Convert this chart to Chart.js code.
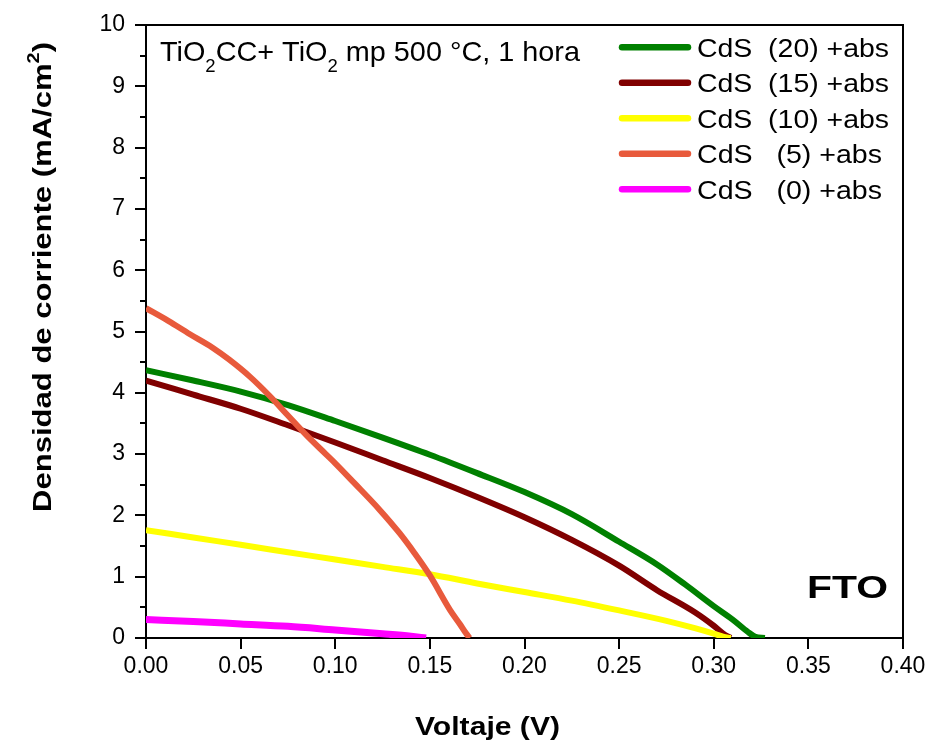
<!DOCTYPE html>
<html>
<head>
<meta charset="utf-8">
<script src="https://cdn.jsdelivr.net/npm/chart.js@4.4.1/dist/chart.umd.min.js"></script>
<style>
  html, body { margin: 0; padding: 0; background: #fff; }
</style>
</head>
<body>
<canvas id="curvaJV" width="930" height="743"></canvas>
<script>
// Curvas J-V, voltaje (V) contra densidad de corriente (mA/cm2)
const v20 = [0, 0.025, 0.05, 0.075, 0.10, 0.125, 0.15, 0.175, 0.20, 0.225, 0.25, 0.27, 0.285, 0.30, 0.31, 0.318, 0.322, 0.327];
const j20 = [4.37, 4.20, 4.02, 3.80, 3.54, 3.27, 2.99, 2.69, 2.38, 2.02, 1.57, 1.20, 0.87, 0.52, 0.30, 0.10, 0.02, 0];

const v15 = [0, 0.025, 0.05, 0.075, 0.10, 0.125, 0.15, 0.175, 0.20, 0.225, 0.25, 0.27, 0.29, 0.30, 0.306, 0.309];
const j15 = [4.20, 3.97, 3.74, 3.47, 3.19, 2.90, 2.61, 2.30, 1.97, 1.60, 1.18, 0.78, 0.42, 0.20, 0.05, 0];

const v10 = [0, 0.025, 0.05, 0.075, 0.10, 0.125, 0.15, 0.175, 0.20, 0.225, 0.25, 0.275, 0.29, 0.30, 0.305, 0.309];
const j10 = [1.76, 1.64, 1.52, 1.40, 1.28, 1.16, 1.04, 0.89, 0.75, 0.61, 0.45, 0.28, 0.16, 0.07, 0.02, 0];

const v5 = [0, 0.012, 0.023, 0.035, 0.044, 0.055, 0.065, 0.075, 0.085, 0.095, 0.10, 0.11, 0.1235, 0.134, 0.142, 0.15, 0.1606, 0.166, 0.169, 0.171];
const j5 = [5.38, 5.17, 4.96, 4.74, 4.54, 4.26, 3.96, 3.63, 3.30, 3.00, 2.85, 2.53, 2.09, 1.71, 1.38, 1.02, 0.46, 0.22, 0.08, 0];

const v0 = [0, 0.025, 0.05, 0.075, 0.10, 0.125, 0.14, 0.148];
const j0 = [0.30, 0.27, 0.23, 0.19, 0.13, 0.07, 0.03, 0];

const etiquetas = ['CdS  (20) +abs', 'CdS  (15) +abs', 'CdS  (10) +abs', 'CdS   (5) +abs', 'CdS   (0) +abs'];
const colores = ['#008000', '#800000', '#ffff00', '#e85a3c', '#ff00ff'];
const voltajes = [v20, v15, v10, v5, v0];
const corrientes = [j20, j15, j10, j5, j0];

const FUENTE = "'Liberation Sans', Arial, sans-serif";

function puntos(v, j) {
    return v.map((x, i) => ({ x: x, y: j[i] }));
}

// texto con subindices / superindices, opcionalmente ajustado a un ancho
function textoFit(ctx, partes, x, y, ancho) {
    let w = 0;
    partes.forEach(p => { ctx.font = p.f; w += ctx.measureText(p.t).width; });
    const sx = ancho ? ancho / w : 1;
    ctx.save();
    ctx.translate(x, y);
    ctx.scale(sx, 1);
    ctx.textAlign = 'left';
    ctx.textBaseline = 'alphabetic';
    ctx.fillStyle = '#000';
    let cx = 0;
    partes.forEach(p => {
        ctx.font = p.f;
        ctx.fillText(p.t, cx, p.dy || 0);
        cx += ctx.measureText(p.t).width;
    });
    ctx.restore();
}

const extras = {
    id: 'extras',
    afterDraw(chart) {
        const ctx = chart.ctx;
        const a = chart.chartArea;
        const ys = chart.scales.y;

        ctx.save();
        // marco superior y derecho
        ctx.strokeStyle = '#000';
        ctx.lineWidth = 2;
        ctx.beginPath();
        ctx.moveTo(a.left, a.top);
        ctx.lineTo(a.right, a.top);
        ctx.lineTo(a.right, a.bottom);
        ctx.stroke();

        // marcas menores del eje Y
        for (let k = 0.5; k < 10; k += 1) {
            const py = Math.round(ys.getPixelForValue(k));
            ctx.beginPath();
            ctx.moveTo(a.left - 6, py);
            ctx.lineTo(a.left, py);
            ctx.stroke();
        }

        // leyenda
        chart.data.datasets.forEach((ds, i) => {
            const ly = 47.3 + i * 35.5;
            ctx.strokeStyle = ds.borderColor;
            ctx.lineWidth = 6.5;
            ctx.lineCap = 'round';
            ctx.beginPath();
            ctx.moveTo(622, ly);
            ctx.lineTo(688, ly);
            ctx.stroke();
            textoFit(ctx, [{ t: ds.label, f: '26px ' + FUENTE }], 697, ly + 9.3, i < 3 ? 192 : 185);
        });
        ctx.restore();

        // nota de la muestra
        const f1 = '28px ' + FUENTE, f2 = '18px ' + FUENTE;
        textoFit(ctx, [
            { t: 'TiO', f: f1 }, { t: '2', f: f2, dy: 11 },
            { t: 'CC+ TiO', f: f1 }, { t: '2', f: f2, dy: 11 },
            { t: ' mp 500 °C, 1 hora', f: f1 }
        ], 160, 60.5, 420);

        // sustrato
        textoFit(ctx, [{ t: 'FTO', f: 'bold 32px ' + FUENTE }], 807, 598, 81);

        // titulo del eje X
        textoFit(ctx, [{ t: 'Voltaje (V)', f: 'bold 25px ' + FUENTE }], 415, 735, 145);

        // titulo del eje Y
        ctx.save();
        ctx.translate(50.5, 512);
        ctx.rotate(-Math.PI / 2);
        textoFit(ctx, [
            { t: 'Densidad de corriente (mA/cm', f: 'bold 25px ' + FUENTE },
            { t: '2', f: 'bold 16px ' + FUENTE, dy: -12 },
            { t: ')', f: 'bold 25px ' + FUENTE }
        ], 0, 0, 470);
        ctx.restore();
    }
};

const ctx = document.getElementById('curvaJV').getContext('2d');

new Chart(ctx, {
    type: 'scatter',
    data: {
        datasets: etiquetas.map((et, i) => ({
            label: et,
            data: puntos(voltajes[i], corrientes[i]),
            showLine: true,
            borderColor: colores[i],
            backgroundColor: colores[i],
            borderWidth: i === 4 ? 7 : 6,
            pointRadius: 0,
            cubicInterpolationMode: 'monotone',
            fill: false,
            order: 5 - i
        }))
    },
    options: {
        responsive: false,
        animation: false,
        layout: {
            padding: { top: 25, right: 27, left: 0, bottom: 0 }
        },
        plugins: {
            legend: { display: false },
            tooltip: { enabled: false }
        },
        scales: {
            x: {
                type: 'linear',
                min: 0,
                max: 0.4,
                afterFit: (s) => { s.height = 105; },
                ticks: {
                    stepSize: 0.05,
                    color: '#000',
                    padding: 4,
                    maxRotation: 0,
                    font: { family: FUENTE, size: 23 },
                    callback: (v) => v.toFixed(2)
                },
                grid: {
                    drawOnChartArea: false,
                    drawTicks: true,
                    tickLength: 11,
                    color: '#000',
                    lineWidth: 2
                },
                border: { color: '#000', width: 2 }
            },
            y: {
                type: 'linear',
                min: 0,
                max: 10,
                afterFit: (s) => { s.width = 146; },
                ticks: {
                    stepSize: 1,
                    color: '#000',
                    padding: 10,
                    font: { family: FUENTE, size: 23 }
                },
                grid: {
                    drawOnChartArea: false,
                    drawTicks: true,
                    tickLength: 11,
                    color: '#000',
                    lineWidth: 2
                },
                border: { color: '#000', width: 2 }
            }
        }
    },
    plugins: [extras]
});
</script>
</body>
</html>
